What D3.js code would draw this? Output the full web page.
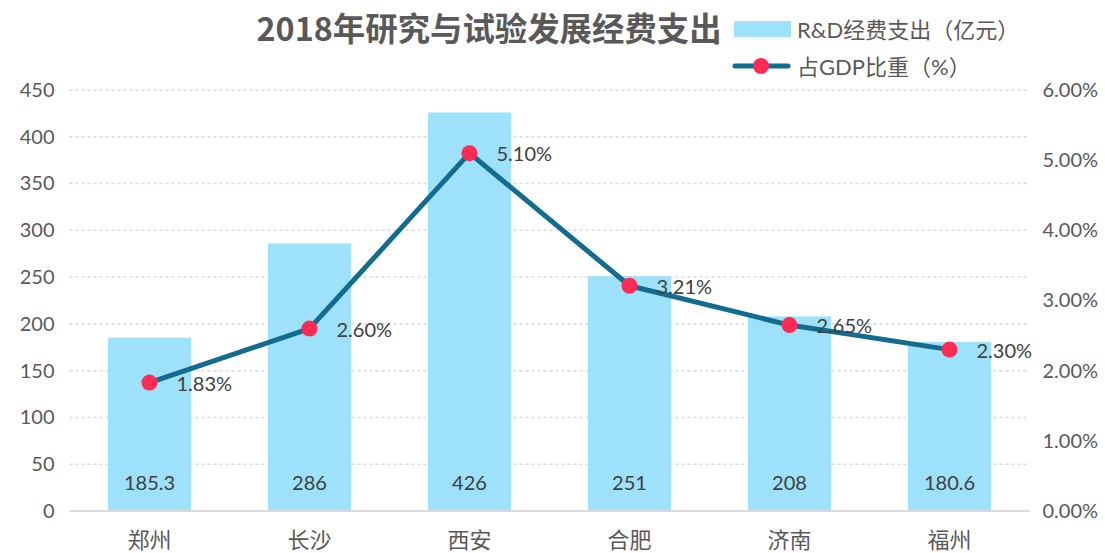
<!DOCTYPE html>
<html>
<head>
<meta charset="utf-8">
<script src="https://cdn.jsdelivr.net/npm/d3@7"></script>
<style>
  body { margin: 0; background: #fff; }
  text { font-family: Lato, "Noto Sans CJK SC", sans-serif; }
</style>
</head>
<body>
<div id="chart"></div>
<script>
var width = 1105, height = 553;

// data
var cities = ["郑州", "长沙", "西安", "合肥", "济南", "福州"];
var spend = [185.3, 286, 426, 251, 208, 180.6];
var spendLabels = ["185.3", "286", "426", "251", "208", "180.6"];
var share = [0.0183, 0.026, 0.051, 0.0321, 0.0265, 0.023];
var leftTicks = [0, 50, 100, 150, 200, 250, 300, 350, 400, 450];
var rightTicks = [0, 0.01, 0.02, 0.03, 0.04, 0.05, 0.06];

var margin = {left: 69.5, right: 75.5, top: 90, bottom: 42};
var x0 = margin.left, x1 = width - margin.right;
var yBase = height - margin.bottom;

var x = d3.scaleBand().domain(cities).range([x0, x1]).paddingInner(0.48).paddingOuter(0.24);
var yL = d3.scaleLinear().domain([0, 450]).range([yBase, margin.top]);
var yR = d3.scaleLinear().domain([0, 0.06]).range([yBase, margin.top]);

var svg = d3.select("#chart").append("svg")
  .attr("width", width)
  .attr("height", height);

var textCol = "#595959";

// gridlines
svg.append("g").selectAll("line")
  .data(leftTicks.filter(function(d) { return d > 0; }))
  .enter().append("line")
  .attr("x1", x0).attr("x2", x1)
  .attr("y1", function(d) { return yL(d); })
  .attr("y2", function(d) { return yL(d); })
  .attr("stroke", "#d9d9d9")
  .attr("stroke-width", 1.5)
  .attr("stroke-dasharray", "3,3");

// bars
svg.append("g").selectAll("rect")
  .data(spend)
  .enter().append("rect")
  .attr("x", function(d, i) { return x(cities[i]); })
  .attr("width", x.bandwidth())
  .attr("y", function(d) { return yL(d); })
  .attr("height", function(d) { return yBase - yL(d); })
  .attr("fill", "#9de1fa");

// baseline
svg.append("line")
  .attr("x1", x0).attr("x2", x1)
  .attr("y1", yBase).attr("y2", yBase)
  .attr("stroke", "#d9d9d9").attr("stroke-width", 2);

// bar labels
svg.append("g").selectAll("text")
  .data(spendLabels)
  .enter().append("text")
  .attr("x", function(d, i) { return x(cities[i]) + x.bandwidth() / 2; })
  .attr("y", yBase - 21)
  .attr("text-anchor", "middle")
  .attr("font-size", 20)
  .attr("fill", "#404040")
  .text(function(d) { return d; });

// left axis
var axL = d3.axisLeft(yL).tickValues(leftTicks).tickSize(0).tickPadding(15);
var gL = svg.append("g").attr("transform", "translate(" + x0 + ",0)").call(axL);
gL.select(".domain").remove();
gL.selectAll("text").attr("font-size", 20).attr("fill", textCol)
  .style("font-family", 'Lato, "Noto Sans CJK SC", sans-serif');

// right axis
var axR = d3.axisRight(yR).tickValues(rightTicks).tickSize(0).tickPadding(13)
  .tickFormat(d3.format(".2%"));
var gR = svg.append("g").attr("transform", "translate(" + x1 + ",0)").call(axR);
gR.select(".domain").remove();
gR.selectAll("text").attr("font-size", 20).attr("fill", textCol)
  .style("font-family", 'Lato, "Noto Sans CJK SC", sans-serif');

// category axis
var axB = d3.axisBottom(x).tickSize(0).tickPadding(21);
var gB = svg.append("g").attr("transform", "translate(0," + yBase + ")").call(axB);
gB.select(".domain").remove();
gB.selectAll("text").attr("font-size", 22).attr("fill", textCol)
  .style("font-family", '"Noto Sans CJK SC", sans-serif');

// line
var cx = function(d, i) { return x(cities[i]) + x.bandwidth() / 2; };
var line = d3.line()
  .x(function(d, i) { return cx(d, i); })
  .y(function(d) { return yR(d); });

svg.append("path")
  .datum(share)
  .attr("d", line)
  .attr("fill", "none")
  .attr("stroke", "#136b8f")
  .attr("stroke-width", 5)
  .attr("stroke-linejoin", "round");

svg.append("g").selectAll("circle")
  .data(share)
  .enter().append("circle")
  .attr("cx", cx)
  .attr("cy", function(d) { return yR(d); })
  .attr("r", 8)
  .attr("fill", "#fe2c55");

svg.append("g").selectAll("text")
  .data(share)
  .enter().append("text")
  .attr("x", function(d, i) { return cx(d, i) + 27; })
  .attr("y", function(d) { return yR(d) + 8; })
  .attr("font-size", 20)
  .attr("fill", "#404040")
  .text(function(d) { return d3.format(".2%")(d); });

// title
svg.append("text")
  .attr("x", 489).attr("y", 41)
  .attr("text-anchor", "middle")
  .attr("font-size", 32.4)
  .attr("font-weight", "bold")
  .attr("fill", textCol)
  .style("font-family", '"Noto Sans CJK SC", sans-serif')
  .text("2018年研究与试验发展经费支出");

// legend
var lg = svg.append("g");
lg.append("rect").attr("x", 734).attr("y", 21).attr("width", 57).attr("height", 16).attr("fill", "#9de1fa");
lg.append("text").attr("x", 797).attr("y", 38).attr("font-size", 22).attr("fill", textCol)
  .text("R&D经费支出（亿元）");
lg.append("line").attr("x1", 735).attr("x2", 788).attr("y1", 66).attr("y2", 66)
  .attr("stroke", "#136b8f").attr("stroke-width", 5).attr("stroke-linecap", "round");
lg.append("circle").attr("cx", 761).attr("cy", 66).attr("r", 8).attr("fill", "#fe2c55");
lg.append("text").attr("x", 797).attr("y", 75).attr("font-size", 22).attr("fill", textCol)
  .text("占GDP比重（%）");
</script>
</body>
</html>
